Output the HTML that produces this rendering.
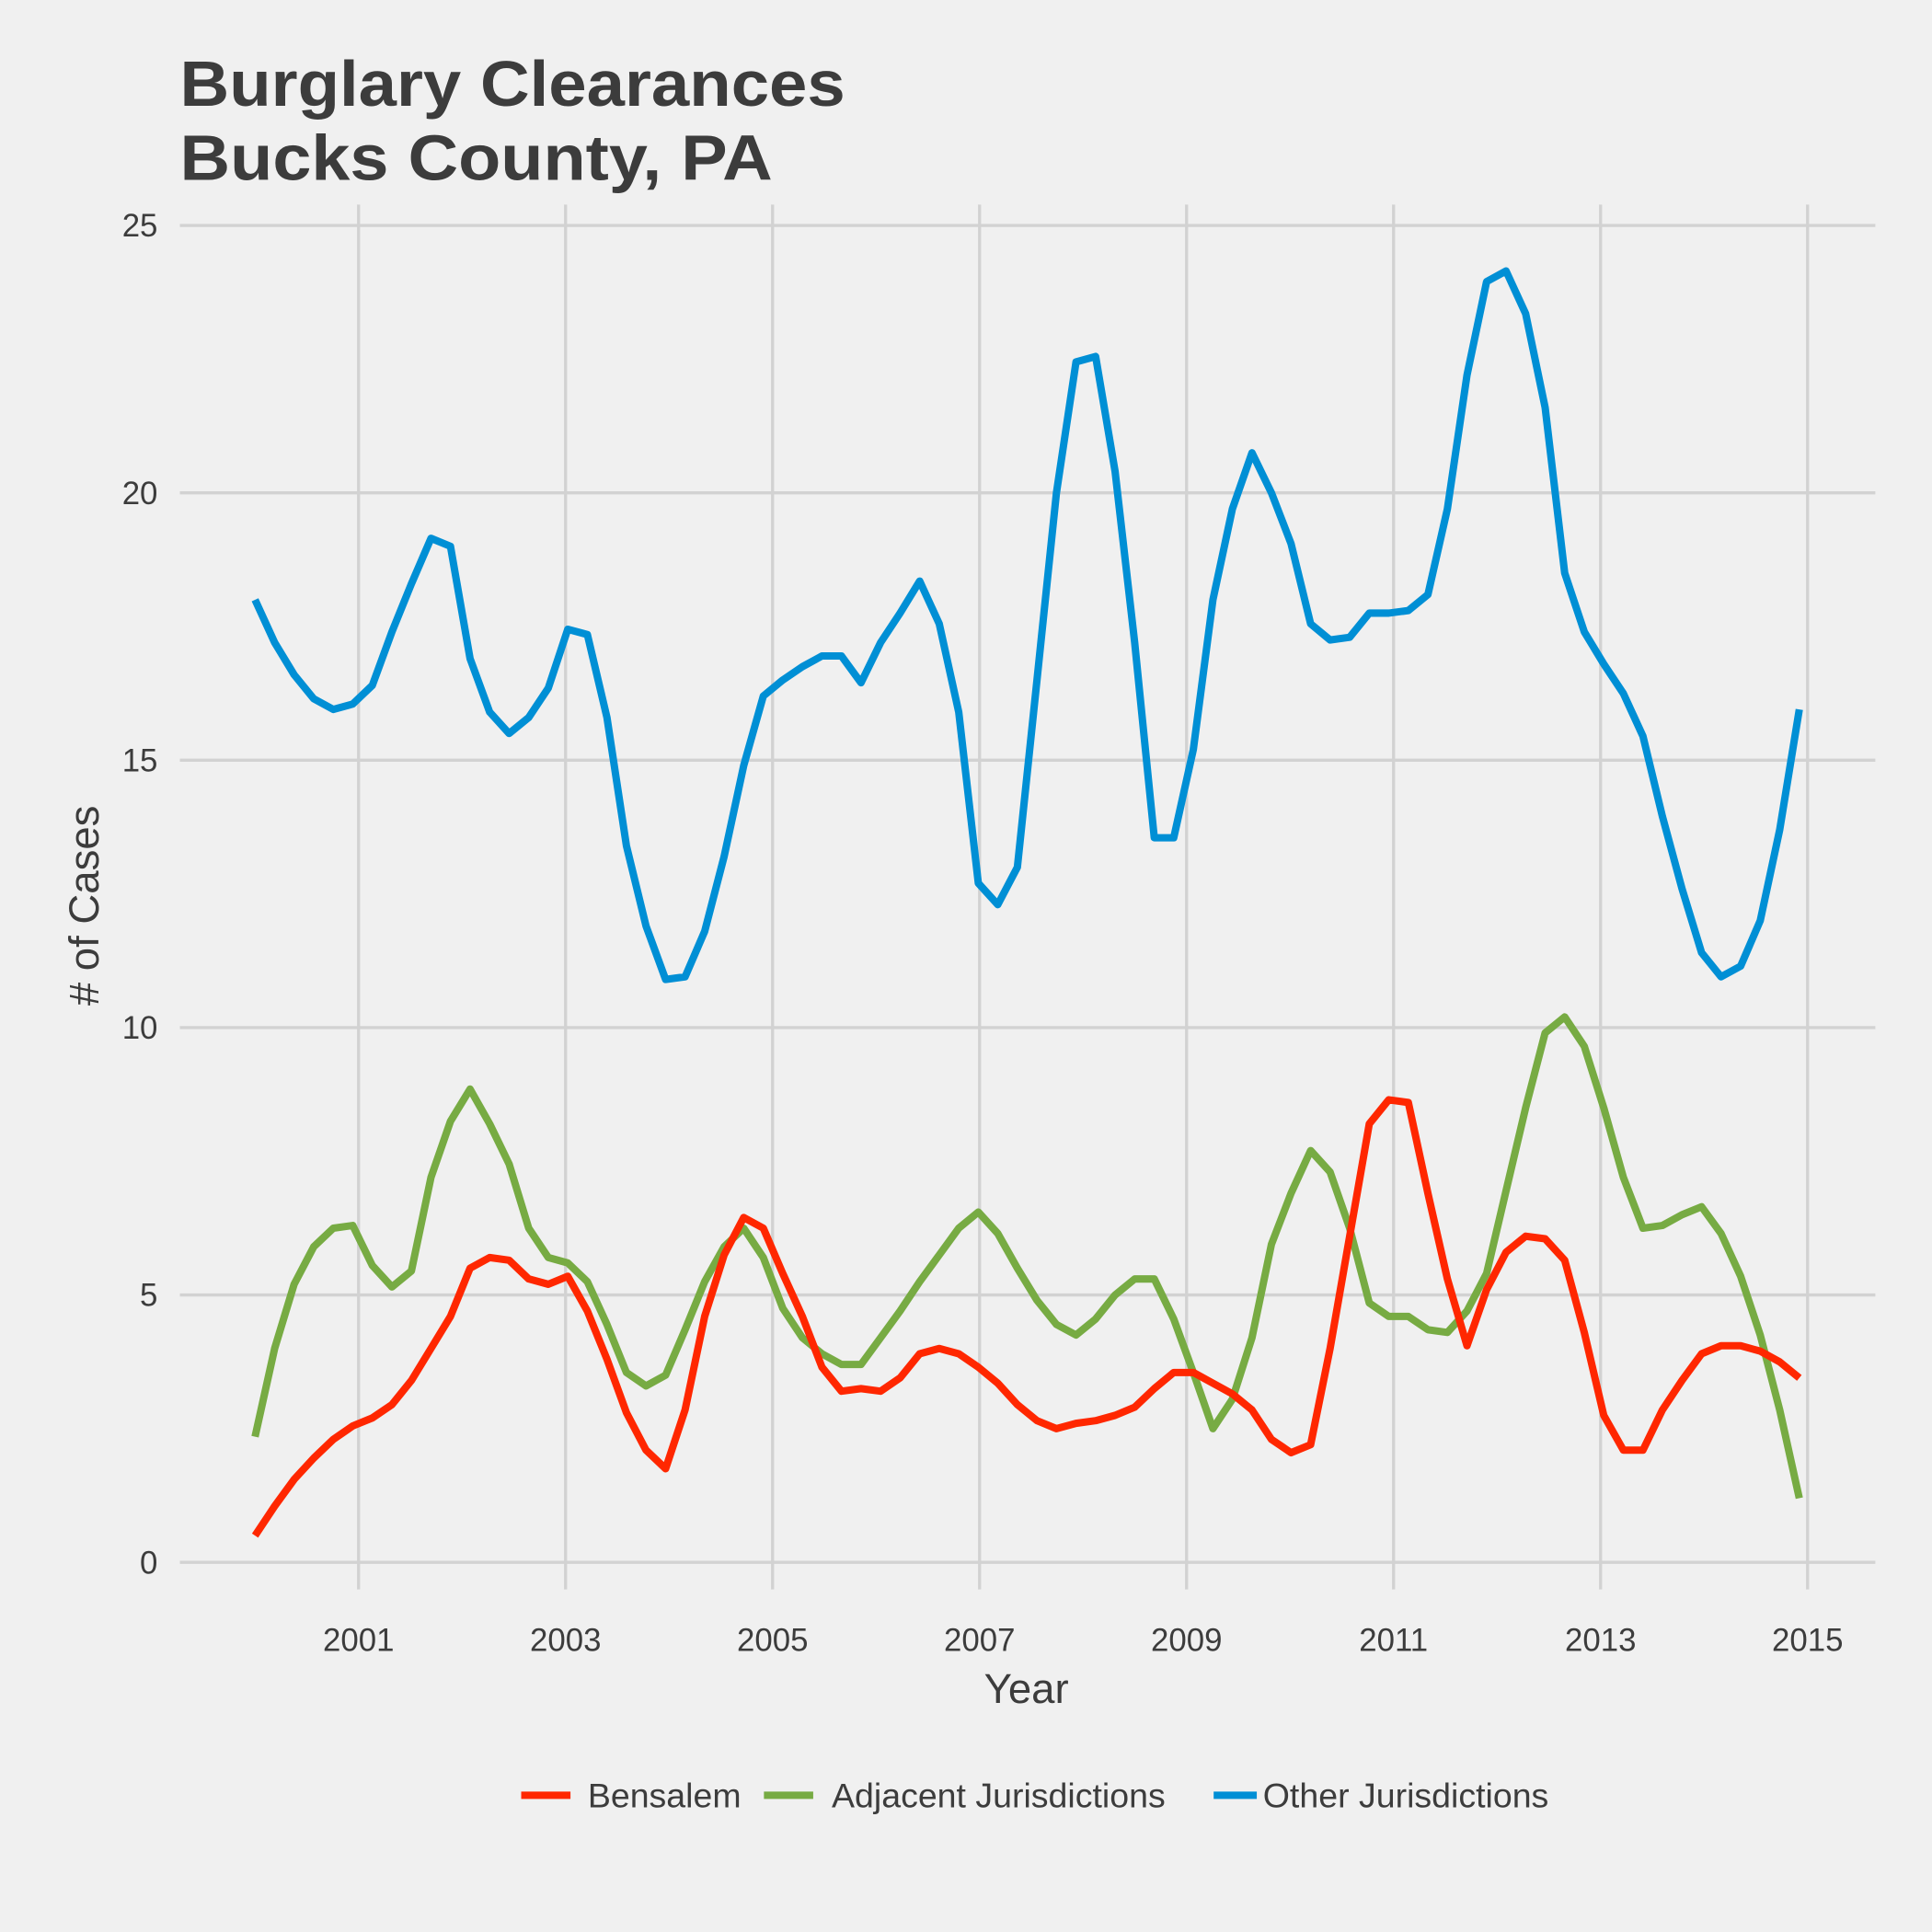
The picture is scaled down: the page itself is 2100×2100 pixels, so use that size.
<!DOCTYPE html>
<html><head><meta charset="utf-8"><style>
html,body{margin:0;padding:0;background:#f0f0f0}
svg{display:block}
text{font-family:"Liberation Sans",Arial,sans-serif;fill:#3c3c3c}
</style></head><body>
<svg id="chart" width="2100" height="2100" viewBox="0 0 1568 1568" xmlns="http://www.w3.org/2000/svg">
<rect width="1568" height="1568" fill="#f0f0f0"/>
<text x="146" y="86" font-size="52" font-weight="bold" textLength="540" lengthAdjust="spacingAndGlyphs">Burglary Clearances</text>
<text x="146" y="146" font-size="52" font-weight="bold" textLength="481" lengthAdjust="spacingAndGlyphs">Bucks County, PA</text>
<g id="grid"></g>
<g id="lines"></g>
<text x="833" y="1382" font-size="34" text-anchor="middle">Year</text>
<text transform="translate(80,735) rotate(-90)" font-size="34" text-anchor="middle"># of Cases</text>
<g>
<line x1="423" y1="1457" x2="463" y2="1457" stroke="#ff2700" stroke-width="6"/>
<text x="477" y="1467" font-size="28">Bensalem</text>
<line x1="620" y1="1457" x2="660" y2="1457" stroke="#77ab43" stroke-width="6"/>
<text x="675" y="1467" font-size="28">Adjacent Jurisdictions</text>
<line x1="985" y1="1457" x2="1020" y2="1457" stroke="#008fd5" stroke-width="6"/>
<text x="1025" y="1467" font-size="28">Other Jurisdictions</text>
</g>
</svg>
<script>
const yTicks = [0, 5, 10, 15, 20, 25];
const xTicks = [2001, 2003, 2005, 2007, 2009, 2011, 2013, 2015];
const startYear = 2000;
const endYear = 2014.92;
const bensalem = [0.5,1.05,1.55,1.95,2.3,2.55,2.7,2.95,3.4,4.0,4.6,5.5,5.7,5.65,5.3,5.2,5.35,4.7,3.8,2.8,2.1,1.75,2.85,4.6,5.75,6.45,6.25,5.4,4.6,3.65,3.2,3.25,3.2,3.45,3.9,4.0,3.9,3.65,3.35,2.95,2.65,2.5,2.6,2.65,2.75,2.9,3.25,3.55,3.55,3.35,3.15,2.85,2.3,2.05,2.2,4.0,6.1,8.2,8.65,8.6,6.9,5.3,4.05,5.1,5.8,6.1,6.05,5.65,4.3,2.75,2.1,2.1,2.85,3.4,3.9,4.05,4.05,3.95,3.75,3.45];
const adjacent = [2.35,4.0,5.2,5.9,6.25,6.3,5.55,5.15,5.45,7.2,8.25,8.85,8.2,7.45,6.25,5.7,5.6,5.25,4.45,3.55,3.3,3.5,4.35,5.25,5.9,6.25,5.7,4.75,4.2,3.9,3.7,3.7,4.2,4.7,5.25,5.75,6.25,6.55,6.15,5.5,4.9,4.45,4.25,4.55,5.0,5.3,5.3,4.55,3.55,2.5,3.05,4.2,5.95,6.9,7.7,7.3,6.25,4.85,4.6,4.6,4.35,4.3,4.7,5.4,6.95,8.5,9.9,10.2,9.65,8.5,7.2,6.25,6.3,6.5,6.65,6.15,5.35,4.25,2.85,1.2];
const other = [18.0,17.2,16.6,16.15,15.95,16.05,16.4,17.4,18.3,19.15,19.0,16.9,15.9,15.5,15.8,16.35,17.45,17.35,15.8,13.4,11.9,10.9,10.95,11.8,13.2,14.9,16.2,16.5,16.75,16.95,16.95,16.45,17.2,17.75,18.35,17.55,15.9,12.7,12.3,13.0,16.5,20.0,22.45,22.55,20.4,17.2,13.55,13.55,15.2,18.0,19.7,20.75,20.0,19.05,17.55,17.25,17.3,17.75,17.75,17.8,18.1,19.7,22.2,23.95,24.15,23.35,21.6,18.5,17.4,16.8,16.25,15.45,13.95,12.6,11.4,10.95,11.15,12.0,13.7,15.95];

const NS = "http://www.w3.org/2000/svg";
const xScale = yr => 291 + (yr - 2001) * 84;
const yScale = v => 1268 - v * 43.4;
const grid = document.getElementById('grid');
const lines = document.getElementById('lines');

yTicks.forEach(t => {
  const l = document.createElementNS(NS, 'line');
  
  
  l.setAttribute('x1', 146); l.setAttribute('x2', 1522);
  l.setAttribute('y1', yScale(t)); l.setAttribute('y2', yScale(t));
  l.setAttribute('stroke', '#d2d2d2'); l.setAttribute('stroke-width', 2.5);
  grid.appendChild(l);
  const tx = document.createElementNS(NS, 'text');
  
  
  tx.setAttribute('x', 128); tx.setAttribute('y', yScale(t) + 9);
  tx.setAttribute('font-size', 26); tx.setAttribute('text-anchor', 'end');
  tx.textContent = t;
  grid.appendChild(tx);
});
xTicks.forEach(t => {
  const l = document.createElementNS(NS, 'line');
  
  
  l.setAttribute('x1', xScale(t)); l.setAttribute('x2', xScale(t));
  l.setAttribute('y1', 166); l.setAttribute('y2', 1290);
  l.setAttribute('stroke', '#d2d2d2'); l.setAttribute('stroke-width', 2.5);
  grid.appendChild(l);
  const tx = document.createElementNS(NS, 'text');
  
  
  tx.setAttribute('x', xScale(t)); tx.setAttribute('y', 1340);
  tx.setAttribute('font-size', 26); tx.setAttribute('text-anchor', 'middle');
  tx.textContent = t;
  grid.appendChild(tx);
});

function drawSeries(vals, color, name) {
  const n = vals.length;
  const pts = vals.map((v, i) => {
    const yr = startYear + i * (endYear - startYear) / (n - 1);
    return xScale(yr).toFixed(1) + ',' + yScale(v).toFixed(1);
  }).join(' ');
  const p = document.createElementNS(NS, 'polyline');
  
  
  p.setAttribute('points', pts);
  p.setAttribute('fill', 'none');
  p.setAttribute('stroke', color);
  p.setAttribute('stroke-width', 6);
  p.setAttribute('stroke-linejoin', 'round');
  lines.appendChild(p);
}
drawSeries(other, '#008fd5', 'line-other-jurisdictions');
drawSeries(adjacent, '#77ab43', 'line-adjacent-jurisdictions');
drawSeries(bensalem, '#ff2700', 'line-bensalem');
</script>
</body></html>
